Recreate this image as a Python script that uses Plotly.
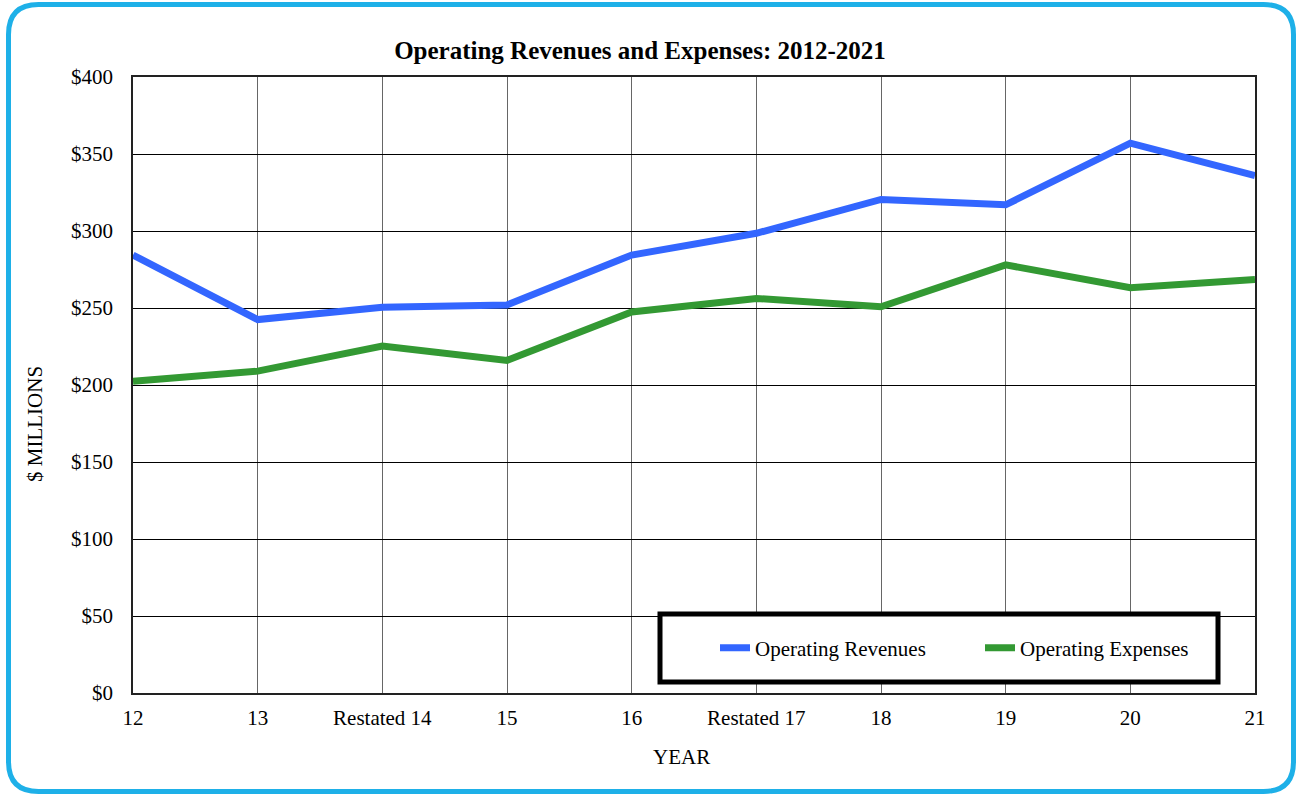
import plotly.graph_objects as go

years = ["12", "13", "Restated 14", "15", "16", "Restated 17", "18", "19", "20", "21"]
revenues = [284.4, 242.5, 250.5, 252.0, 284.4, 298.5, 320.5, 317.0, 357.0, 336.0]
expenses = [202.5, 209.0, 225.3, 216.0, 247.4, 256.2, 250.8, 278.0, 263.2, 268.5]
y_ticks = [0, 50, 100, 150, 200, 250, 300, 350, 400]
y_labels = ["$" + str(v) for v in y_ticks]

W, H = 1298, 794
L, R, T, B = 133, 43, 77, 101
PW, PH = W - L - R, H - T - B

def px(x):
    return (x - L) / PW

def py(y):
    return (H - B - y) / PH

FONT = "Liberation Serif"
FS = 21

fig = go.Figure()
fig.add_trace(go.Scatter(x=years, y=revenues, mode="lines", name="Operating Revenues",
                         line=dict(color="#3366FF", width=7)))
fig.add_trace(go.Scatter(x=years, y=expenses, mode="lines", name="Operating Expenses",
                         line=dict(color="#339933", width=7)))

# rounded frame
x0, x1, y0, y1, r = px(8.5), px(1293.5), py(4.5), py(791.5), 30
rx, ry = r / PW, r / PH
path = (f"M {x0+rx},{y0} L {x1-rx},{y0} Q {x1},{y0} {x1},{y0-ry} "
        f"L {x1},{y1+ry} Q {x1},{y1} {x1-rx},{y1} L {x0+rx},{y1} "
        f"Q {x0},{y1} {x0},{y1+ry} L {x0},{y0-ry} Q {x0},{y0} {x0+rx},{y0} Z")

shapes = [
    dict(type="path", xref="paper", yref="paper", path=path,
         line=dict(color="#1EB0E8", width=5), layer="below"),
    dict(type="rect", xref="paper", yref="paper", x0=px(660), x1=px(1218), y0=py(682), y1=py(614),
         line=dict(color="black", width=5), fillcolor="white", layer="above"),
]

fig.update_layout(
    width=W, height=H,
    margin=dict(l=L, r=R, t=T, b=B),
    paper_bgcolor="white", plot_bgcolor="white",
    font=dict(family=FONT, size=FS, color="black"),
    title=dict(text="<b>Operating Revenues and Expenses: 2012-2021</b>", xref="container", x=640 / W,
               xanchor="center", yref="container", y=1 - 50 / H, yanchor="middle",
               font=dict(family=FONT, size=25, color="black")),
    xaxis=dict(type="category", range=[0, len(years) - 1], showgrid=True, gridcolor="#666666", gridwidth=1,
               showline=True, linecolor="#222222", linewidth=1.5, mirror=True, ticks="",
               ticklabelstandoff=5, tickfont=dict(family=FONT, size=FS), fixedrange=True),
    yaxis=dict(range=[0, 400], tickvals=y_ticks, ticktext=y_labels, showgrid=True, gridcolor="#000000",
               gridwidth=1, showline=True, linecolor="#222222", linewidth=1.5, mirror=True, ticks="",
               ticklabelstandoff=14, zeroline=False, tickfont=dict(family=FONT, size=FS)),
    showlegend=True,
    legend=dict(orientation="h", x=px(715), xanchor="left", y=py(648), yanchor="middle",
                bgcolor="rgba(0,0,0,0)", borderwidth=0, font=dict(family=FONT, size=FS),
                entrywidth=220, entrywidthmode="pixels"),
    shapes=shapes,
    annotations=[
        dict(text="$ MILLIONS", xref="paper", yref="paper", x=px(35), y=py(424), textangle=-90,
             xanchor="center", yanchor="middle", showarrow=False, font=dict(family=FONT, size=FS)),
        dict(text="YEAR", xref="paper", yref="paper", x=px(681), y=py(757),
             xanchor="center", yanchor="middle", showarrow=False, font=dict(family=FONT, size=FS)),
    ],
)

fig.write_html("out.html", config={"displayModeBar": False},
               post_script="document.body.style.margin='0';document.body.style.overflow='hidden';")
